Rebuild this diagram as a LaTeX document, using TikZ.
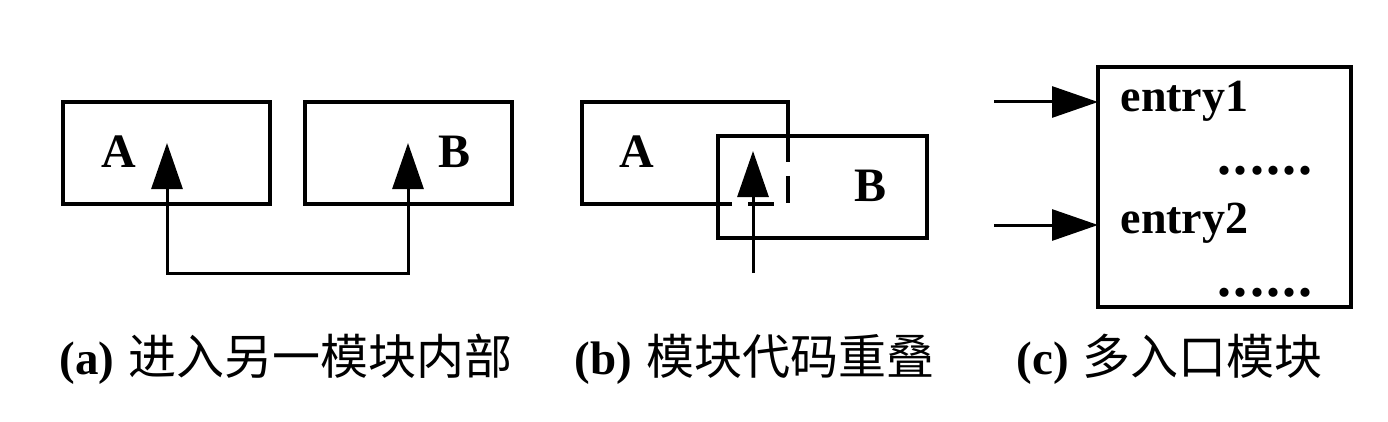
\documentclass[tikz,border=0pt]{standalone}
\usepackage{fontspec}
\setmainfont{Liberation Serif}
\newfontfamily\cjk{Noto Sans CJK SC}
\newfontfamily\dotfont[LetterSpace=4]{Liberation Serif Bold}
\usetikzlibrary{arrows.meta}
\begin{document}
\begin{tikzpicture}[x=1pt,y=-1pt,
  line width=3.2pt,
  blk/.style={draw, line width=3.2pt, inner sep=0pt, outer sep=0pt},
  lbl/.style={font=\fontsize{48}{56}\selectfont\bfseries, inner sep=0pt},
  ent/.style={font=\fontsize{46}{54}\selectfont\bfseries, inner sep=0pt, anchor=base west},
  dotsty/.style={font=\fontsize{56}{60}\selectfont\dotfont, inner sep=0pt, anchor=base west},
  captxt/.style={inner sep=0pt, anchor=base west},
  arr/.style={-{Triangle[length=46pt,width=31pt]}, line width=3pt},
  dbl/.style={{Triangle[length=46pt,width=31pt]}-{Triangle[length=46pt,width=31pt]}, line width=3pt}]
\useasboundingbox (0,0) rectangle (1388,422);
% ---------- (a) ----------
\node[blk, minimum width=207pt, minimum height=102pt] (aA) at (166.5,153) {};
\node[blk, minimum width=207pt, minimum height=102pt] (aB) at (408.5,153) {};
\node[lbl] (aAl) at (119,152) {A};
\node[lbl] (aBl) at (455,152) {B};
\coordinate (aTa) at (167,143);
\coordinate (aTb) at (408,143);
\coordinate (aLow) at (167,273);
\draw[dbl] (aTa) -- (aLow) -| (aTb);
% ---------- (b) ----------
\node[blk, minimum width=209pt, minimum height=102pt] (bB) at (822.5,187) {};
\coordinate (bAsw) at (582,204);
\coordinate (bAnw) at (582,102);
\coordinate (bAne) at (788,102);
\draw (732,204) -- (bAsw) -- (bAnw) -- (bAne) -- (788,162);
\draw (788,176) -- (788,203);
\draw (748,204) -- (774,204);
\node[lbl] (bAl) at (637,152) {A};
\node[lbl] (bBl) at (870,186) {B};
\coordinate (bS) at (753,273);
\coordinate (bT) at (753,151);
\draw[arr] (bS) -- (bT);
% ---------- (c) ----------
\node[blk, minimum width=253pt, minimum height=240pt] (cM) at (1224.5,187) {};
\coordinate (c1) at (994,102);
\coordinate (c2) at (994,225);
\draw[arr] (c1) -- (c1 -| cM.west);
\draw[arr] (c2) -- (c2 -| cM.west);
\node[ent] (e1) at (1119,112) {entry1};
\node[ent] (e2) at (1119,233) {entry2};
\node[dotsty] (d1) at (1216,175) {......};
\node[dotsty] (d2) at (1216,296) {......};
% ---------- captions ----------
\node[captxt] (capa) at (58,374) {{\fontsize{47}{56}\selectfont\bfseries (a)}\hspace{14pt}{\cjk\fontsize{48}{56}\selectfont 进入另一模块内部}};
\node[captxt] (capb) at (573,374) {{\fontsize{47}{56}\selectfont\bfseries (b)}\hspace{14pt}{\cjk\fontsize{48}{56}\selectfont 模块代码重叠}};
\node[captxt] (capc) at (1015,374) {{\fontsize{47}{56}\selectfont\bfseries (c)}\hspace{14pt}{\cjk\fontsize{48}{56}\selectfont 多入口模块}};
\end{tikzpicture}
\end{document}
